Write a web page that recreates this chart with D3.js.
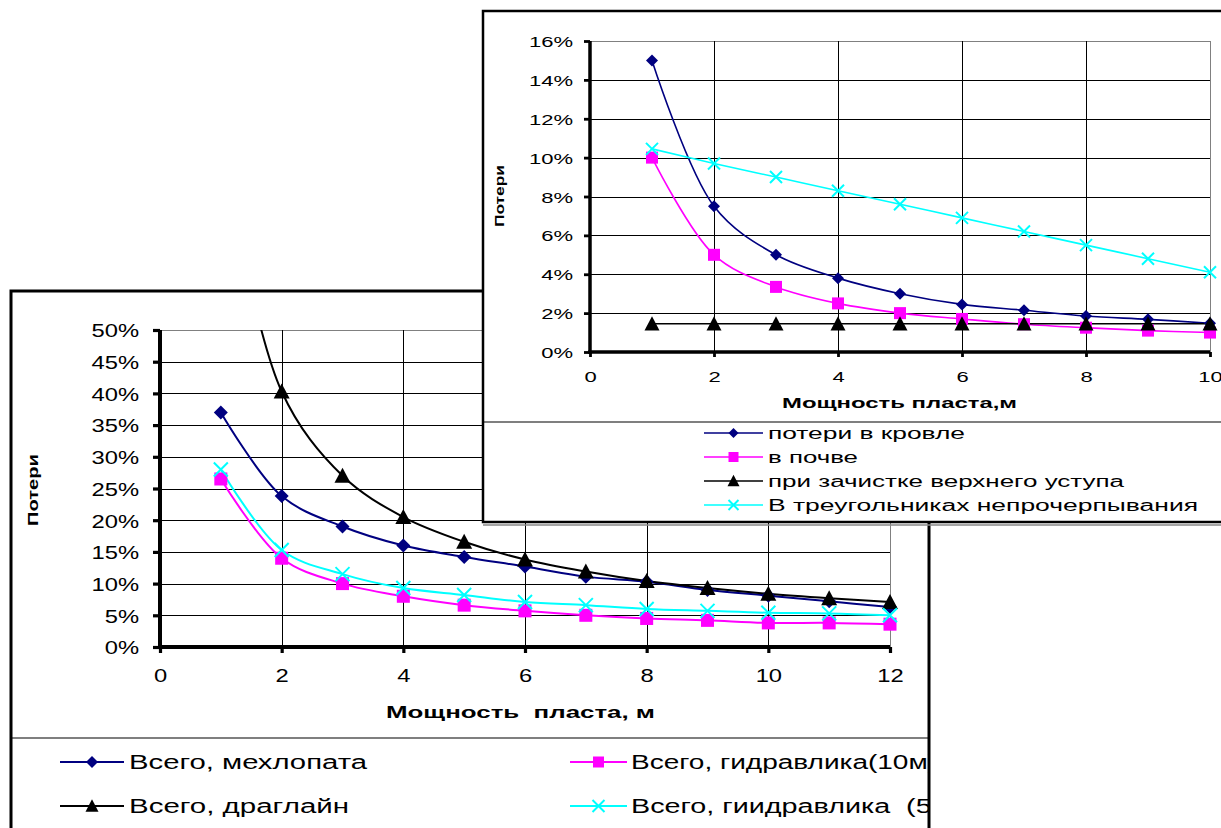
<!DOCTYPE html>
<html><head><meta charset="utf-8">
<script src="https://cdn.jsdelivr.net/npm/d3@7"></script>
<style>
body{margin:0;background:#fff;}
svg{display:block;font-family:"Liberation Sans",Arial,sans-serif;}
text{white-space:pre;}
</style>
</head><body>
<svg id="c" width="1221" height="828"></svg>
<script>
// ---------- back (larger) chart data ----------
const backX = [1,2,3,4,5,6,7,8,9,10,11,12];
const backMech  = [0.370,0.238,0.190,0.160,0.142,0.127,0.111,0.103,0.090,0.081,0.072,0.063];
const backDrag  = [0.800,0.403,0.270,0.205,0.166,0.138,0.119,0.104,0.093,0.084,0.077,0.071];
const backHyd10 = [0.265,0.140,0.100,0.080,0.066,0.057,0.050,0.045,0.042,0.038,0.038,0.036];
const backHyd5  = [0.280,0.153,0.115,0.093,0.082,0.071,0.066,0.060,0.057,0.054,0.053,0.050];
const backNames = ["Всего, мехлопата","Всего, гидравлика(10м)","Всего, драглайн","Всего, гиидравлика  (5м)"];
const backYTicks = [0,0.05,0.10,0.15,0.20,0.25,0.30,0.35,0.40,0.45,0.50];
const backXTicks = [0,2,4,6,8,10,12];
const backYTitle = "Потери";
const backXTitle = "Мощность  пласта, м";

// ---------- front (smaller) chart data ----------
const frontX = [1,2,3,4,5,6,7,8,9,10];
const frontRoof  = [0.150,0.075,0.050,0.038,0.030,0.0245,0.0215,0.0185,0.0168,0.0148];
const frontFloor = [0.100,0.050,0.0335,0.025,0.020,0.017,0.0143,0.0125,0.011,0.010];
const frontStrip = [0.0145,0.0145,0.0145,0.0145,0.0145,0.0145,0.0145,0.0145,0.0145,0.0145];
const frontTri   = [0.1045,0.097,0.090,0.083,0.076,0.069,0.062,0.055,0.048,0.041];
const frontNames = ["потери в кровле","в почве","при зачистке верхнего уступа","В треугольниках непрочерпывания"];
const frontYTicks = [0,0.02,0.04,0.06,0.08,0.10,0.12,0.14,0.16];
const frontXTicks = [0,2,4,6,8,10];
const frontYTitle = "Потери";
const frontXTitle = "Мощность пласта,м";

const NAVY="#000080", MAG="#FF00FF", BLK="#000000", CY="#00FFFF";

const svg = d3.select("#c");
const defs = svg.append("defs");

function stretch(sel, f){
  sel.each(function(){
    const w = this.getComputedTextLength();
    d3.select(this).attr("textLength", w*f).attr("lengthAdjust","spacingAndGlyphs");
  });
}

function marker(g, type, x, y, s, color){
  if(type==="diamond"){
    g.append("path").attr("d",`M${x},${y-s}L${x+s},${y}L${x},${y+s}L${x-s},${y}Z`).attr("fill",color);
  } else if(type==="square"){
    g.append("rect").attr("x",x-s).attr("y",y-s).attr("width",2*s).attr("height",2*s).attr("fill",color);
  } else if(type==="triangle"){
    const h=s*1.75;
    g.append("path").attr("d",`M${x},${y-h/2-1}L${x+s},${y+h/2}L${x-s},${y+h/2}Z`).attr("fill",color);
  } else if(type==="x"){
    g.append("path").attr("d",`M${x-s},${y-s}L${x+s},${y+s}M${x-s},${y+s}L${x+s},${y-s}`)
      .attr("stroke",color).attr("stroke-width",2).attr("fill","none");
  }
}

function drawChart(cfg){
  const g = svg.append("g");
  const clipId = cfg.id+"-frame";
  defs.append("clipPath").attr("id",clipId).append("rect")
    .attr("x",cfg.frame[0]).attr("y",cfg.frame[1]).attr("width",cfg.frame[2]).attr("height",cfg.frame[3]);
  const plotClip = cfg.id+"-plot";
  defs.append("clipPath").attr("id",plotClip).append("rect")
    .attr("x",cfg.px0).attr("y",cfg.py1).attr("width",cfg.px1-cfg.px0).attr("height",cfg.py0-cfg.py1);

  // frame
  g.append("rect").attr("x",cfg.frame[0]).attr("y",cfg.frame[1]).attr("width",cfg.frame[2]).attr("height",cfg.frame[3])
    .attr("fill","#fff").attr("stroke","#000").attr("stroke-width",cfg.frameW);
  if(cfg.bottomShadow){
    g.append("line").attr("x1",cfg.frame[0]).attr("x2",cfg.frame[0]+cfg.frame[2]).attr("y1",cfg.frame[1]+cfg.frame[3]+3).attr("y2",cfg.frame[1]+cfg.frame[3]+3)
      .attr("stroke","#888").attr("stroke-width",1.5);
  }
  const inner = g.append("g").attr("clip-path",`url(#${clipId})`);

  const x = d3.scaleLinear().domain(cfg.xDom).range([cfg.px0,cfg.px1]);
  const y = d3.scaleLinear().domain(cfg.yDom).range([cfg.py0,cfg.py1]);

  // grid
  const grid = inner.append("g");
  cfg.yTicks.forEach((t,i)=>{ if(t===0) return;
    grid.append("line").attr("x1",cfg.px0).attr("x2",cfg.px1).attr("y1",Math.round(y(t))+0.5).attr("y2",Math.round(y(t))+0.5)
      .attr("stroke", i===cfg.yTicks.length-1 ? "#808080" : "#000").attr("stroke-width",1);
  });
  cfg.xTicks.forEach((t,i)=>{ if(t===0) return;
    grid.append("line").attr("y1",cfg.py1).attr("y2",cfg.py0).attr("x1",Math.round(x(t))+0.5).attr("x2",Math.round(x(t))+0.5)
      .attr("stroke", i===cfg.xTicks.length-1 ? "#808080" : "#000").attr("stroke-width",1);
  });

  // axes
  const yAxis = d3.axisLeft(y).tickValues(cfg.yTicks).tickFormat(d3.format(".0%")).tickSize(cfg.tick).tickPadding(cfg.yPad);
  const ya = inner.append("g").attr("transform",`translate(${cfg.px0},0)`).call(yAxis);
  ya.select(".domain").attr("stroke-width",cfg.axisW).attr("d",`M0,${cfg.py1}V${cfg.py0+cfg.axisW/2}`);
  ya.selectAll(".tick line").attr("stroke-width",cfg.axisW*0.8);
  ya.selectAll("text").attr("font-size",cfg.tickFont).attr("font-family","Liberation Sans, Arial").attr("fill","#000").attr("dy","0.36em");
  stretch(ya.selectAll("text"), cfg.tickStretch);

  const xAxis = d3.axisBottom(x).tickValues(cfg.xTicks).tickFormat(d3.format("d")).tickSize(cfg.tickX).tickPadding(cfg.xPad);
  const xa = inner.append("g").attr("transform",`translate(0,${cfg.py0})`).call(xAxis);
  xa.select(".domain").attr("stroke-width",cfg.axisW).attr("d",`M${cfg.px0-cfg.axisW/2},0H${cfg.px1}`);
  xa.selectAll(".tick line").attr("stroke-width",cfg.axisW*0.8);
  xa.selectAll("text").attr("font-size",cfg.tickFont).attr("font-family","Liberation Sans, Arial").attr("fill","#000");
  stretch(xa.selectAll("text"), cfg.tickStretch);

  // series
  const lineGen = d3.line().x(d=>x(d[0])).y(d=>y(d[1])).curve(d3.curveCatmullRom.alpha(0.5));
  const lines = inner.append("g").attr("clip-path",`url(#${plotClip})`);
  cfg.series.forEach(s=>{
    const pts = cfg.xs.map((v,i)=>[v,s.values[i]]);
    lines.append("path").attr("d",lineGen(pts)).attr("fill","none").attr("stroke",s.color).attr("stroke-width",cfg.lineW);
  });
  const mk = inner.append("g");
  cfg.series.forEach(s=>{
    cfg.xs.forEach((v,i)=>{ const val=s.values[i];
      if(val<=cfg.yDom[1]) marker(mk,s.marker,x(v),y(val),cfg.markS[s.marker],s.mcolor||s.color);
    });
  });

  // titles
  inner.append("text").attr("transform",`translate(${cfg.yTitle[1]},${cfg.yTitle[2]}) rotate(-90)`)
    .attr("text-anchor","middle").attr("font-weight","bold").attr("font-size",cfg.yTitle[3]).attr("dy","0.35em")
    .text(cfg.yTitle[0]).attr("textLength",cfg.yTitle[4]).attr("lengthAdjust","spacingAndGlyphs");
  inner.append("text").attr("x",cfg.xTitle[1]).attr("y",cfg.xTitle[2]).attr("font-weight","bold").attr("font-size",cfg.xTitle[3])
    .text(cfg.xTitle[0]).attr("textLength",cfg.xTitle[4]).attr("lengthAdjust","spacingAndGlyphs");

  // legend separator
  inner.append("line").attr("x1",cfg.frame[0]).attr("x2",cfg.frame[0]+cfg.frame[2]).attr("y1",cfg.sepY).attr("y2",cfg.sepY)
    .attr("stroke","#000").attr("stroke-width",1.2);

  // legend
  const lg = inner.append("g");
  cfg.series.forEach((s,i)=>{
    const p = cfg.legendPos[i];
    lg.append("line").attr("x1",p[0]).attr("x2",p[1]).attr("y1",p[3]).attr("y2",p[3]).attr("stroke",s.legendLine||s.color).attr("stroke-width",cfg.legLineW);
    marker(lg,s.marker,(p[0]+p[1])/2,p[3],cfg.legMarkS[s.marker],s.mcolor||s.color);
    lg.append("text").attr("x",p[2]).attr("y",p[3]).attr("dy","0.36em").attr("font-size",cfg.legFont)
      .text(s.name).attr("textLength",p[4]).attr("lengthAdjust","spacingAndGlyphs");
  });
}

// back chart
drawChart({
  id:"back", frame:[11,291,918,620], frameW:3,
  xDom:[0,12], yDom:[0,0.5], px0:160, px1:890, py0:647, py1:330,
  xTicks:backXTicks, yTicks:backYTicks, tick:7, tickX:6, yPad:14, xPad:16,
  axisW:4, tickFont:19, tickStretch:1.25, lineW:2,
  xs:backX,
  series:[
    {name:backNames[0], values:backMech, color:NAVY, marker:"diamond"},
    {name:backNames[1], values:backHyd10, color:MAG, marker:"square"},
    {name:backNames[2], values:backDrag, color:BLK, marker:"triangle"},
    {name:backNames[3], values:backHyd5, color:CY, marker:"x"}
  ],
  markS:{diamond:7,square:6.5,triangle:8,x:7},
  legMarkS:{diamond:6,square:5.5,triangle:6.5,x:6},
  yTitle:[backYTitle,33,490,15,72],
  xTitle:[backXTitle,386,718,17,269],
  sepY:738, legLineW:2, legFont:20,
  legendPos:[[60,124,129,762,238],[570,627,631,762,306],[60,124,129,806,220],[570,627,631,806,330]]
});

// front chart
drawChart({
  id:"front", frame:[483,11,760,511], frameW:2.5, bottomShadow:true,
  xDom:[0,10], yDom:[0,0.16], px0:590, px1:1210, py0:352, py1:41,
  xTicks:frontXTicks, yTicks:frontYTicks, tick:6, tickX:5, yPad:11, xPad:14,
  axisW:3.5, tickFont:15.5, tickStretch:1.42, lineW:1.6,
  xs:frontX,
  series:[
    {name:frontNames[0], values:frontRoof, color:NAVY, marker:"diamond"},
    {name:frontNames[1], values:frontFloor, color:MAG, marker:"square"},
    {name:frontNames[2], values:frontStrip, color:BLK, marker:"triangle"},
    {name:frontNames[3], values:frontTri, color:CY, marker:"x"}
  ],
  markS:{diamond:6,square:6,triangle:7.5,x:6},
  legMarkS:{diamond:5,square:5,triangle:6,x:5},
  yTitle:[frontYTitle,499,196,13,62],
  xTitle:[frontXTitle,782,408,15,235],
  sepY:422, legLineW:1.6, legFont:16,
  legendPos:[[704,763,768,433,197],[704,763,768,457,90],[704,763,768,481,356],[704,763,768,505,430]]
});
</script>
</body></html>
